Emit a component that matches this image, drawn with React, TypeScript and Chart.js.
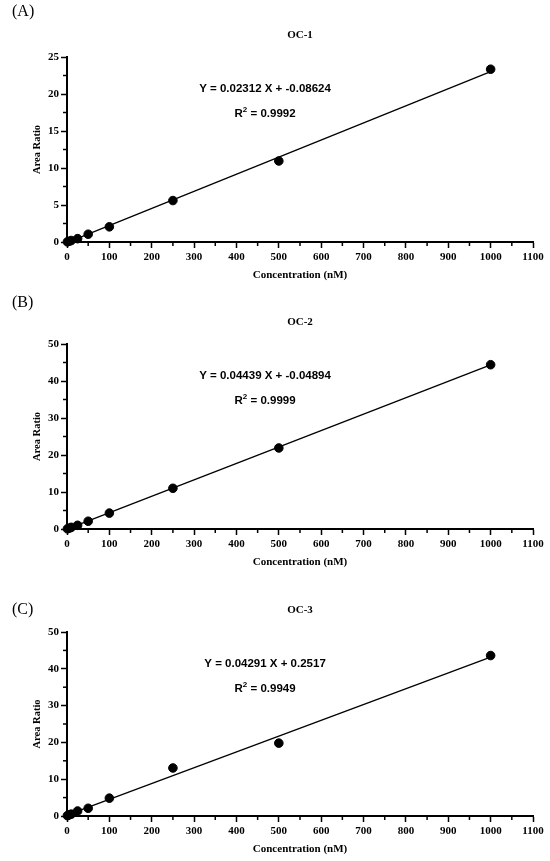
import { useEffect, useRef } from "react"
import { Chart, registerables } from "chart.js"

Chart.register(...registerables)

// concentrations (nM) shared by all three calibration curves
const CONCENTRATION = [1, 5, 10, 25, 50, 100, 250, 500, 1000]

const OC1_RATIO = [0.02, 0.1, 0.2, 0.45, 1.05, 2.05, 5.6, 10.95, 23.35]
const OC2_RATIO = [0.05, 0.2, 0.45, 1.0, 2.1, 4.3, 11.0, 21.9, 44.4]
const OC3_RATIO = [0.1, 0.3, 0.5, 1.35, 2.1, 4.85, 13.05, 19.8, 43.6]
const RATIOS = [OC1_RATIO, OC2_RATIO, OC3_RATIO]

const PANEL_LABELS = ["(A)", "(B)", "(C)"]
const TITLES = ["OC-1", "OC-2", "OC-3"]
const SLOPES = [0.02312, 0.04439, 0.04291]
const INTERCEPTS = [-0.08624, -0.04894, 0.2517]
const EQUATIONS = ["Y = 0.02312 X + -0.08624", "Y = 0.04439 X + -0.04894", "Y = 0.04291 X + 0.2517"]
const R_SQUARED = ["0.9992", "0.9999", "0.9949"]

const X_MAX = 1100
const X_STEP = 50
const X_MAJOR = 100
const Y_MAX = [25, 50, 50]
const Y_STEP = [2.5, 5, 5]
const Y_MAJOR = [5, 10, 10]

const FIT_X = [0, 1000]

// per-panel placement inside each 550x287 canvas
const TOP_PAD = [57, 57, 58]
const LABEL_Y = [12, 16, 36]

const SERIF = "'Liberation Serif', 'Times New Roman', serif"
const SANS = "'Liberation Sans', Arial, sans-serif"

const isMajor = (v: number, step: number) => Math.abs(v / step - Math.round(v / step)) < 1e-6

function Panel({ index }: { index: number }) {
  const canvasRef = useRef<HTMLCanvasElement>(null)

  useEffect(() => {
    if (!canvasRef.current) return
    const ctx = canvasRef.current.getContext("2d")
    if (!ctx) return

    const slope = SLOPES[index]
    const icpt = INTERCEPTS[index]
    const yMajor = Y_MAJOR[index]

    const decorations = {
      id: "decorations",
      afterDraw(chart: Chart) {
        const c = chart.ctx
        const { left, right, top, bottom, width } = chart.chartArea
        c.save()
        c.fillStyle = "#000"
        c.strokeStyle = "#000"

        // minor ticks, shorter than the major ones chart.js draws
        c.lineWidth = 1.5
        const xs = chart.scales.x
        xs.ticks.forEach(t => {
          if (isMajor(t.value, X_MAJOR)) return
          const px = xs.getPixelForValue(t.value)
          c.beginPath(); c.moveTo(px, bottom); c.lineTo(px, bottom + 4); c.stroke()
        })
        const ys = chart.scales.y
        ys.ticks.forEach(t => {
          if (isMajor(t.value, yMajor)) return
          const py = ys.getPixelForValue(t.value)
          c.beginPath(); c.moveTo(left, py); c.lineTo(left - 4, py); c.stroke()
        })

        c.textBaseline = "middle"
        c.font = `16px ${SERIF}`
        c.textAlign = "left"
        c.fillText(PANEL_LABELS[index], 12, LABEL_Y[index])

        c.font = `bold 11px ${SERIF}`
        c.textAlign = "center"
        c.fillText(TITLES[index], (left + right) / 2, top - 22)

        const cx = left + width * 0.425
        c.font = `bold 11.5px ${SANS}`
        c.fillText(EQUATIONS[index], cx, top + 32)

        // R² with a raised 2
        const rest = " = " + R_SQUARED[index]
        const wR = c.measureText("R").width
        const wRest = c.measureText(rest).width
        c.font = `bold 8px ${SANS}`
        const w2 = c.measureText("2").width
        const x0 = cx - (wR + w2 + wRest) / 2
        const ry = top + 57
        c.textAlign = "left"
        c.font = `bold 11.5px ${SANS}`
        c.fillText("R", x0, ry)
        c.font = `bold 8px ${SANS}`
        c.fillText("2", x0 + wR, ry - 4)
        c.font = `bold 11.5px ${SANS}`
        c.fillText(rest, x0 + wR + w2, ry)
        c.restore()
      },
    }

    const chart = new Chart(ctx, {
      type: "scatter",
      data: {
        datasets: [
          {
            data: CONCENTRATION.map((x, i) => ({ x, y: RATIOS[index][i] })),
            backgroundColor: "#000",
            borderColor: "#000",
            pointRadius: 4.3,
            pointHoverRadius: 4.3,
            clip: false,
          },
          {
            data: FIT_X.map(x => ({ x, y: slope * x + icpt })),
            showLine: true,
            borderColor: "#000",
            borderWidth: 1.3,
            pointRadius: 0,
            clip: false,
          },
        ],
      },
      options: {
        responsive: false,
        animation: false,
        layout: { padding: { top: TOP_PAD[index], left: 31, right: 17, bottom: 5 } },
        plugins: { legend: { display: false }, tooltip: { enabled: false }, title: { display: false } },
        scales: {
          x: {
            type: "linear",
            min: 0,
            max: X_MAX,
            afterFit: s => { s.height = 40 },
            border: { color: "#000", width: 2 },
            grid: {
              drawOnChartArea: false,
              tickLength: 6,
              tickWidth: 1.5,
              tickColor: c => (isMajor(c.tick?.value ?? 0, X_MAJOR) ? "#000" : "rgba(0,0,0,0)"),
            },
            ticks: {
              stepSize: X_STEP,
              autoSkip: false,
              maxRotation: 0,
              padding: 3,
              color: "#000",
              font: { family: SERIF, size: 11, weight: "bold" },
              callback: v => (isMajor(Number(v), X_MAJOR) ? String(v) : ""),
            },
            title: {
              display: true,
              text: "Concentration (nM)",
              color: "#000",
              padding: 0,
              font: { family: SERIF, size: 11, weight: "bold" },
            },
          },
          y: {
            type: "linear",
            min: 0,
            max: Y_MAX[index],
            afterFit: s => { s.width = 36 },
            border: { color: "#000", width: 2 },
            grid: {
              drawOnChartArea: false,
              tickLength: 6,
              tickWidth: 1.5,
              tickColor: c => (isMajor(c.tick?.value ?? 0, yMajor) ? "#000" : "rgba(0,0,0,0)"),
            },
            ticks: {
              stepSize: Y_STEP[index],
              autoSkip: false,
              padding: 2,
              color: "#000",
              font: { family: SERIF, size: 11, weight: "bold" },
              callback: v => (isMajor(Number(v), yMajor) ? String(v) : ""),
            },
            title: {
              display: true,
              text: "Area Ratio",
              color: "#000",
              padding: 0,
              font: { family: SERIF, size: 10.5, weight: "bold" },
            },
          },
        },
      },
      plugins: [decorations],
    })

    return () => { chart.destroy() }
  }, [index])

  return <canvas ref={canvasRef} width={550} height={287} style={{ display: "block" }} />
}

export default function App() {
  return (
    <div style={{ position: "absolute", left: 0, top: 0, width: 550, height: 861, background: "#fff" }}>
      {[0, 1, 2].map(i => <Panel key={i} index={i} />)}
    </div>
  )
}
